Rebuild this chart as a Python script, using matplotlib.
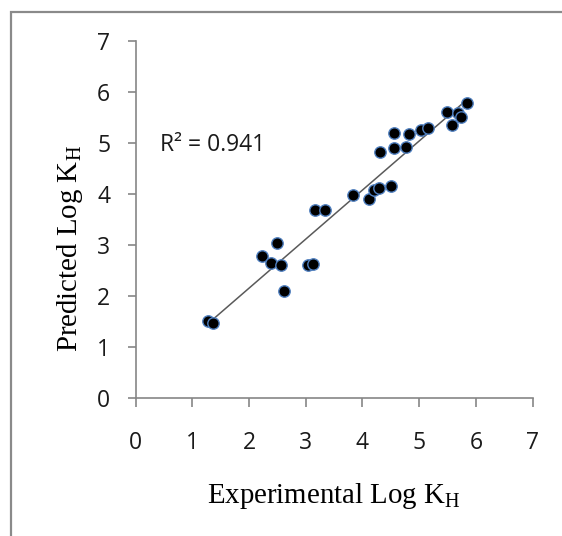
import numpy as np
import matplotlib
matplotlib.use("Agg")
import matplotlib.pyplot as plt
from matplotlib.patches import Rectangle

# Experimental vs predicted Log K_H values
exp_logkh = [1.28, 1.37, 2.23, 2.39, 2.50, 2.57, 2.62, 3.04, 3.13, 3.17,
             3.34, 3.84, 4.12, 4.21, 4.29, 4.31, 4.51, 4.56, 4.56, 4.77,
             4.82, 5.04, 5.16, 5.49, 5.58, 5.69, 5.74, 5.85]
pred_logkh = [1.51, 1.47, 2.78, 2.65, 3.04, 2.61, 2.10, 2.61, 2.63, 3.69,
              3.69, 3.98, 3.90, 4.08, 4.12, 4.82, 4.16, 4.90, 5.20, 4.92,
              5.18, 5.25, 5.29, 5.61, 5.35, 5.59, 5.51, 5.78]
r2_text = "R\u00b2 = 0.941"
ticks = [0, 1, 2, 3, 4, 5, 6, 7]

plt.rcParams["mathtext.fontset"] = "custom"
plt.rcParams["mathtext.rm"] = "Liberation Serif"

W, H = 562, 536
fig = plt.figure(figsize=(W / 100, H / 100), dpi=100)
fig.patch.set_facecolor("white")

# outer chart frame (extends past right/bottom edges)
fig.patches.append(Rectangle((11 / W, -0.1), 1.2, 1 - 12 / H + 0.1,
                             transform=fig.transFigure, fill=False,
                             edgecolor="#8a8a8a", linewidth=1.6))

ax = fig.add_axes([135.5 / W, 138 / H, 397.2 / W, 357 / H])
ax.set_xlim(0, 7)
ax.set_ylim(0, 7)

for side in ("top", "right"):
    ax.spines[side].set_visible(False)
for side in ("left", "bottom"):
    ax.spines[side].set_color("#868686")
    ax.spines[side].set_linewidth(1.2)

ax.set_xticks(ticks)
ax.set_yticks(ticks)
tick_font = "Open Sans"
tick_size = 16.5
ax.tick_params(axis="x", direction="out", length=6.5, width=1.2,
               color="#868686", pad=17, labelsize=tick_size)
ax.tick_params(axis="y", direction="out", length=5.5, width=1.2,
               color="#868686", pad=12.6, labelsize=tick_size)
for lab in ax.get_xticklabels() + ax.get_yticklabels():
    lab.set_fontfamily(tick_font)
    lab.set_color("#1a1a1a")

# linear trendline
x = np.array(exp_logkh)
y = np.array(pred_logkh)
slope, intercept = np.polyfit(x, y, 1)
xl = np.array([x.min(), x.max()])
ax.plot(xl, slope * xl + intercept, color="#5a5a5a", linewidth=1.1, zorder=2)

ax.plot(x, y, linestyle="none", marker="o", markersize=8.2,
        markerfacecolor="black", markeredgecolor="#4f7fbf",
        markeredgewidth=1.0, zorder=3)

ax.text(0.43, 4.96, r2_text, fontsize=tick_size, family=tick_font,
        color="#1a1a1a", va="center", ha="left")

# axis titles
fig.text(334 / W, (H - 503) / H, r"Experimental Log K$_\mathregular{H}$",
         family="Liberation Serif", fontsize=20.8, ha="center", va="baseline")
fig.text(77 / W, (H - 248) / H, r"Predicted Log K$_\mathregular{H}$",
         family="Liberation Serif", fontsize=20.8, ha="center", va="baseline",
         rotation=90, rotation_mode="anchor")

fig.savefig("out.png", dpi=100)
